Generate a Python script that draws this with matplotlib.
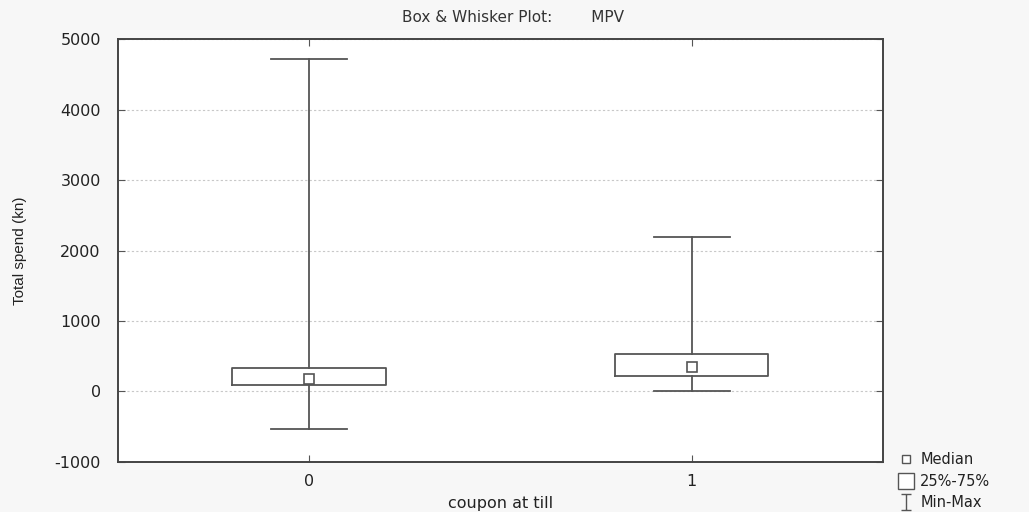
import matplotlib
matplotlib.use("Agg")
from matplotlib import pyplot as plt
from matplotlib.lines import Line2D
from matplotlib.path import Path

# values
groups = ["0", "1"]
mins = [-540, 10]
q1s = [95, 213]
medians = [180, 345]
q3s = [331, 535]
maxs = [4716, 2187]

plt.rcParams["font.family"] = ["DejaVu Sans"]
plt.rcParams["axes.unicode_minus"] = False
line_col = "#555555"
text_col = "#222222"

fig = plt.figure(figsize=(10.29, 5.12), dpi=100, facecolor="#f7f7f7")
ax = fig.add_axes([0.1142, 0.0982, 0.7442, 0.8247])
ax.set_facecolor("white")

positions = list(range(len(groups)))
stats = []
for i, g in enumerate(groups):
    stats.append({"label": g, "whislo": mins[i], "q1": q1s[i], "med": medians[i],
                  "q3": q3s[i], "whishi": maxs[i]})

ax.bxp(stats, positions=positions, widths=0.4, showfliers=False,
       boxprops=dict(color=line_col, linewidth=1.3),
       whiskerprops=dict(color=line_col, linewidth=1.3),
       capprops=dict(color=line_col, linewidth=1.3),
       medianprops=dict(linestyle="none"))
# median drawn as small square like the original
ax.plot(positions, medians, "s", mfc="white", mec=line_col, mew=1.2, ms=7, ls="none", zorder=5)

ax.set_xlim(-0.5, 1.5)
ax.set_ylim(-1000, 5000)
ax.set_yticks(range(-1000, 5001, 1000))
ax.set_xticks(positions)
ax.set_xticklabels(groups)
ax.grid(axis="y", linestyle=(0, (2, 2)), color="#c8c8c8", linewidth=0.8)
ax.set_axisbelow(True)
ax.tick_params(direction="in", top=True, right=True, length=5, color=line_col,
               labelsize=11.5, labelcolor=text_col, pad=12)
ax.tick_params(axis="x", pad=9)
for s in ax.spines.values():
    s.set_color("#444444")
    s.set_linewidth(1.4)

ax.set_ylabel("Total spend (kn)", fontsize=11, color=text_col, labelpad=20,
              family=["Liberation Sans Narrow", "Liberation Sans"])
ax.set_xlabel("coupon at till", fontsize=11.5, color=text_col, labelpad=5)
fig.text(0.499, 0.965, "Box & Whisker Plot:        MPV", ha="center", va="center",
         fontsize=11, color="#333333")

# legend in the lower right corner, outside the axes
ibeam = Path([(-0.6, 1), (0.6, 1), (0, 1), (0, -1), (-0.6, -1), (0.6, -1)],
             [Path.MOVETO, Path.LINETO, Path.MOVETO, Path.LINETO, Path.MOVETO, Path.LINETO])
handles = [
    Line2D([], [], marker="s", mfc="white", mec=line_col, ms=6, ls="none", mew=1),
    Line2D([], [], marker="s", mfc="white", mec=line_col, ms=12, ls="none", mew=1),
    Line2D([], [], marker=ibeam, color=line_col, ms=11, ls="none", mew=1),
]
fig.legend(handles, ["Median", "25%-75%", "Min-Max"], loc="lower left",
           bbox_to_anchor=(0.868, -0.008), frameon=False, fontsize=10.5,
           handlelength=1.0, handletextpad=0.45, labelspacing=0.45, borderaxespad=0,
           labelcolor=text_col)

plt.savefig("out.png", dpi=100, facecolor=fig.get_facecolor())
